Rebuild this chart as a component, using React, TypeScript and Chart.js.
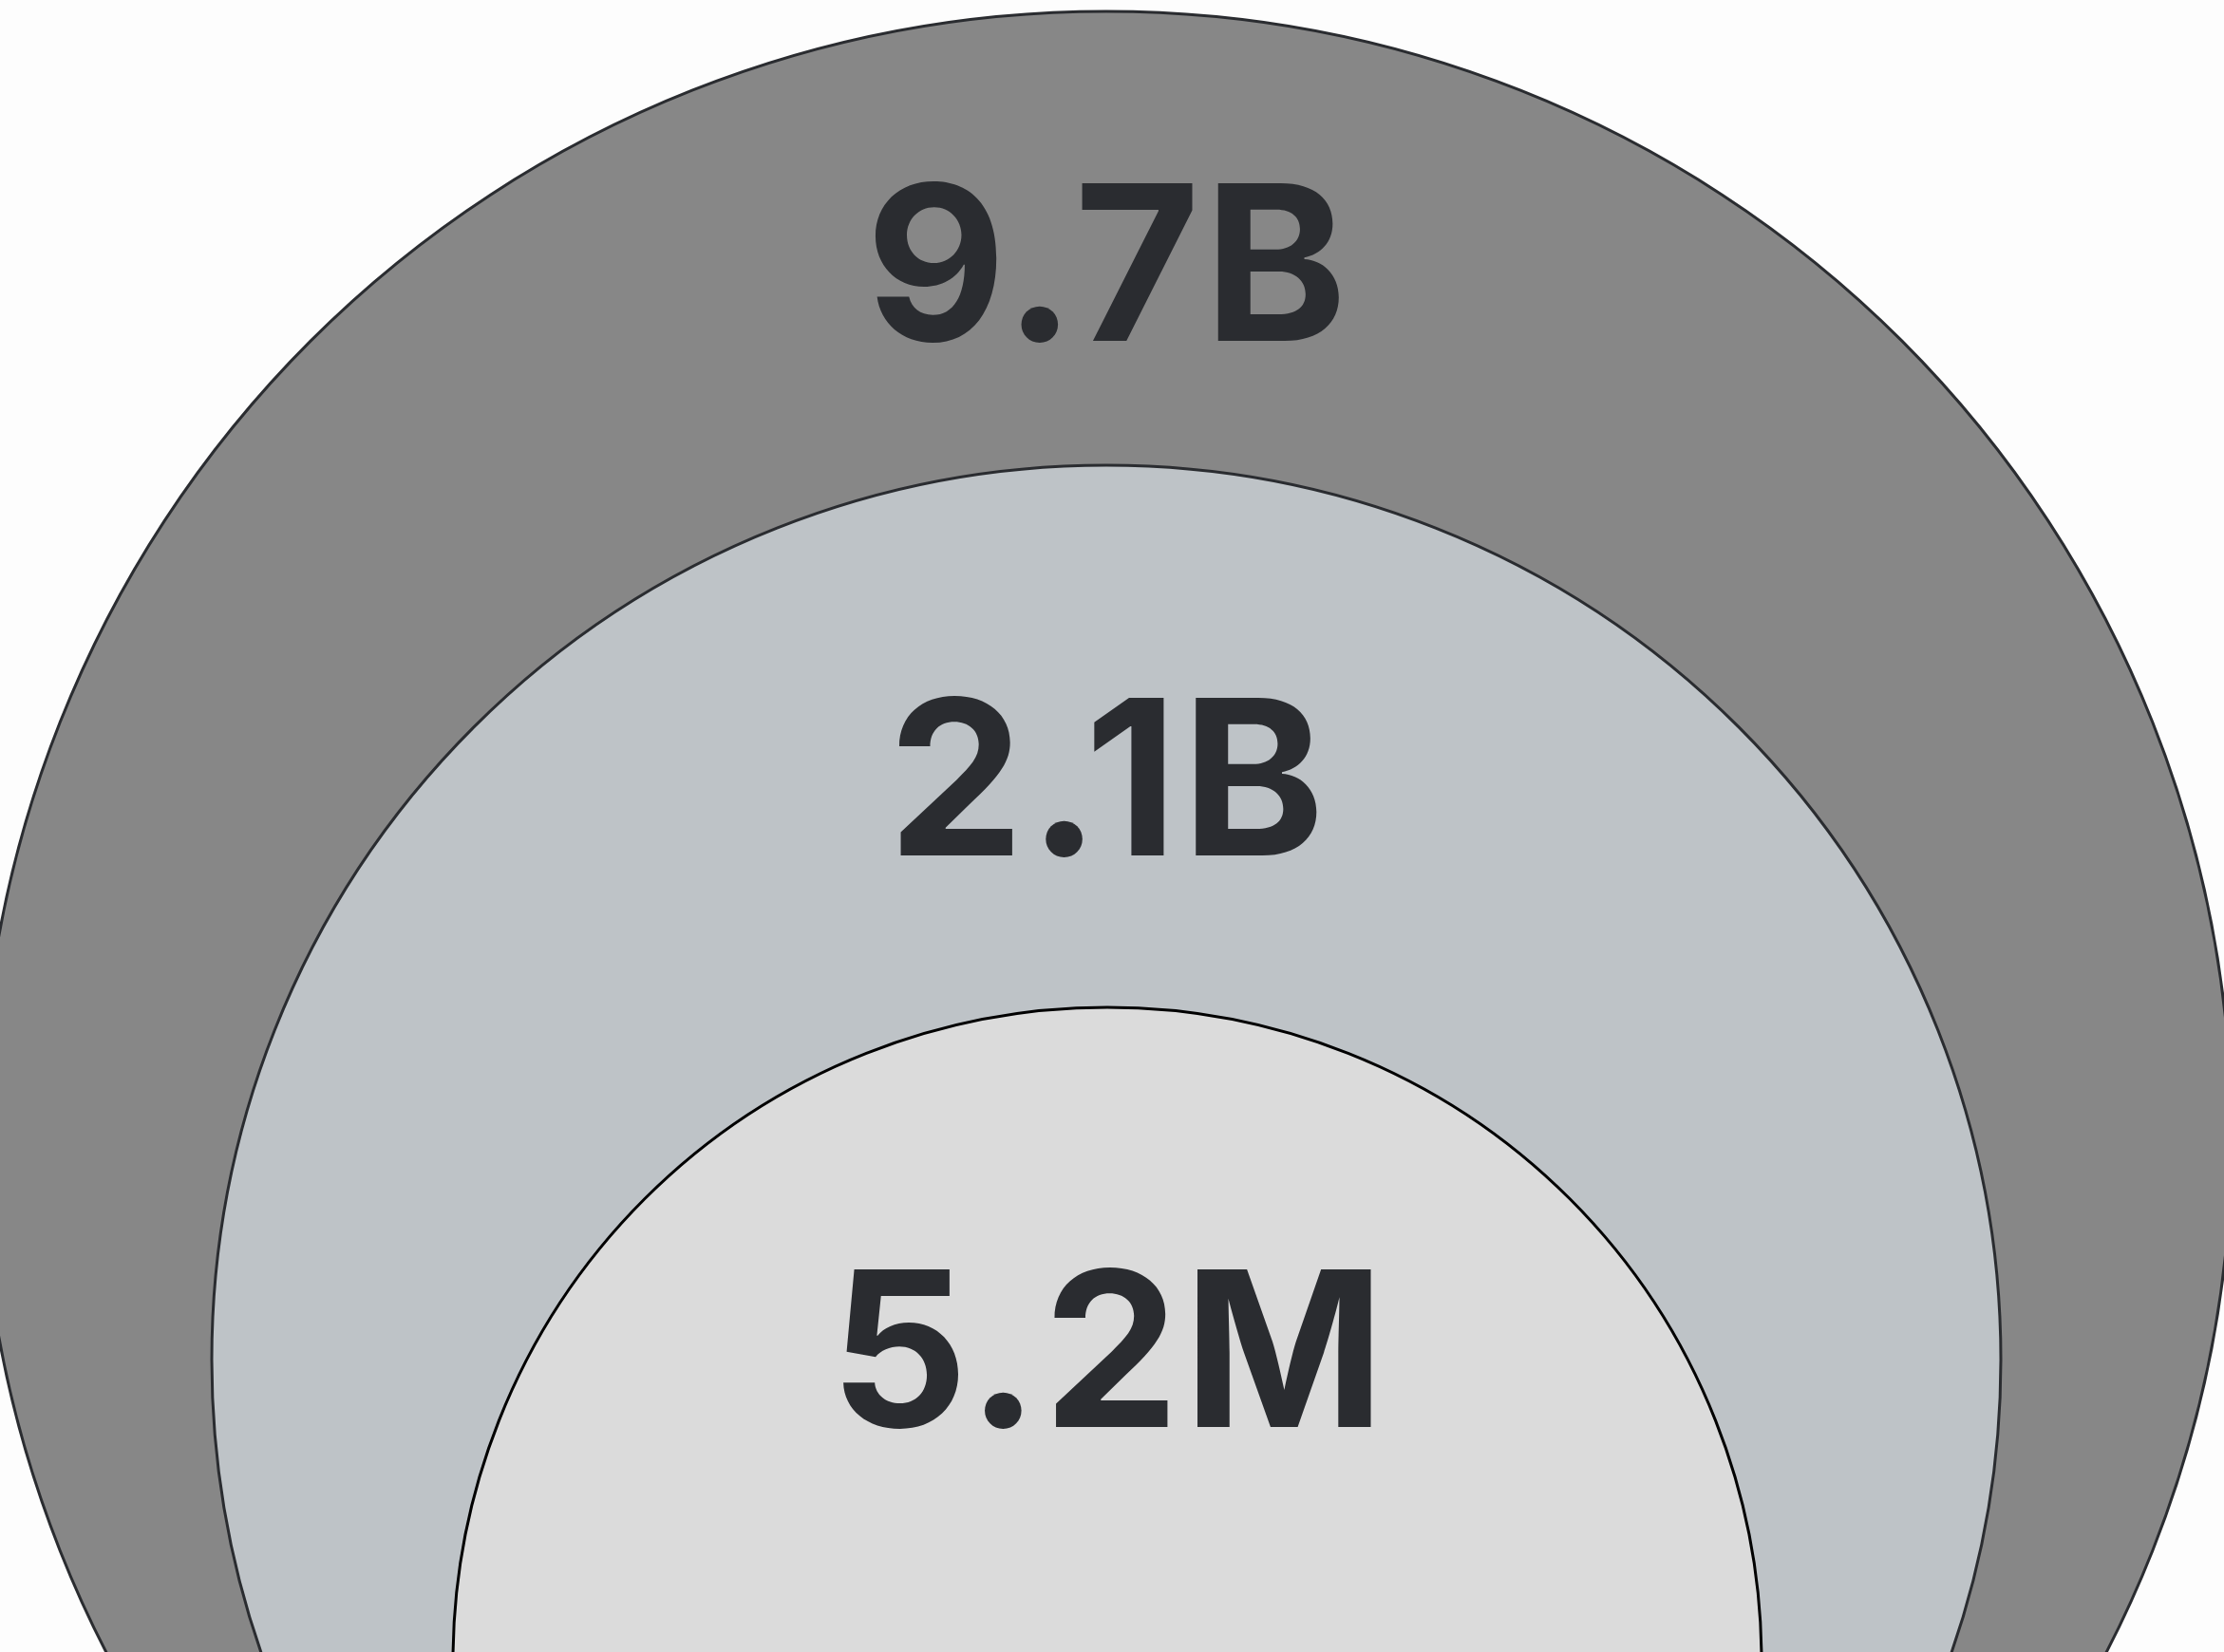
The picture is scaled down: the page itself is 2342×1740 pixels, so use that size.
import React, { useEffect, useRef } from "react";
import { Chart, registerables } from "chart.js";

Chart.register(...registerables);

// ---- Data ----
const categories: string[] = ["Outer", "Middle", "Inner"];
const valueLabels: string[] = ["9.7B", "2.1B", "5.2M"];
const values: number[] = [9.7e9, 2.1e9, 5.2e6];

// ---- Layout (sizes / positions, in canvas pixels) ----
const W = 2342;
const H = 1740;
const ringCenterX = [1165, 1165, 1166];
const ringCenterY = [1197, 1432, 1750];
const ringRadius = [1185, 942, 689];
const labelOffsetFromTop = [264, 328, 359];

// ---- Styles ----
const fills = ["#878787", "#bec3c7", "#dbdbdb"];
const borders = ["#2a2c30", "#2a2c30", "#000000"];
const textColor = "#2a2c30";
const FONT_SIZE = 228;
const CAP = 0.727;

const bgPlugin = {
  id: "bg",
  beforeDraw(chart: any) {
    const ctx = chart.ctx;
    ctx.save();
    ctx.fillStyle = "#fdfdfd";
    ctx.fillRect(0, 0, chart.width, chart.height);
    ctx.restore();
  },
};

const labelPlugin = {
  id: "ringLabels",
  afterDatasetsDraw(chart: any) {
    const ctx = chart.ctx;
    const meta = chart.getDatasetMeta(0);
    ctx.save();
    ctx.fillStyle = textColor;
    ctx.font = `700 ${FONT_SIZE}px Inter`;
    try {
      (ctx as any).letterSpacing = "4px";
    } catch (e) {}
    ctx.textAlign = "center";
    ctx.textBaseline = "alphabetic";
    meta.data.forEach((pt: any, i: number) => {
      const r = ringRadius[i];
      const top = pt.y - r;
      const cy = top + labelOffsetFromTop[i];
      const baseline = cy + (CAP * FONT_SIZE) / 2;
      ctx.fillText(valueLabels[i], pt.x + 2, baseline);
    });
    ctx.restore();
  },
};

export default function App() {
  const ref = useRef<HTMLCanvasElement | null>(null);
  useEffect(() => {
    document.body.style.margin = "0";
    const chart = new Chart(ref.current as HTMLCanvasElement, {
      type: "bubble",
      data: {
        labels: categories,
        datasets: [
          {
            label: "Tiers",
            data: values.map((v, i) => ({
              x: ringCenterX[i],
              y: ringCenterY[i],
              r: ringRadius[i],
              v,
            })) as any,
            backgroundColor: fills,
            borderColor: borders,
            borderWidth: 3,
            hoverBorderWidth: 3,
            clip: false as any,
          },
        ],
      },
      options: {
        responsive: false,
        animation: false,
        events: [],
        layout: { padding: 0, autoPadding: false },
        scales: {
          x: { type: "linear", display: false, min: 0, max: W },
          y: { type: "linear", display: false, min: 0, max: H, reverse: true },
        },
        plugins: {
          legend: { display: false },
          tooltip: { enabled: false },
        },
      },
      plugins: [bgPlugin, labelPlugin],
    });
    return () => chart.destroy();
  }, []);
  return (
    <div style={{ position: "fixed", left: 0, top: 0, width: W, height: H }}>
      <canvas ref={ref} width={W} height={H} style={{ width: W, height: H, display: "block" }} />
    </div>
  );
}
